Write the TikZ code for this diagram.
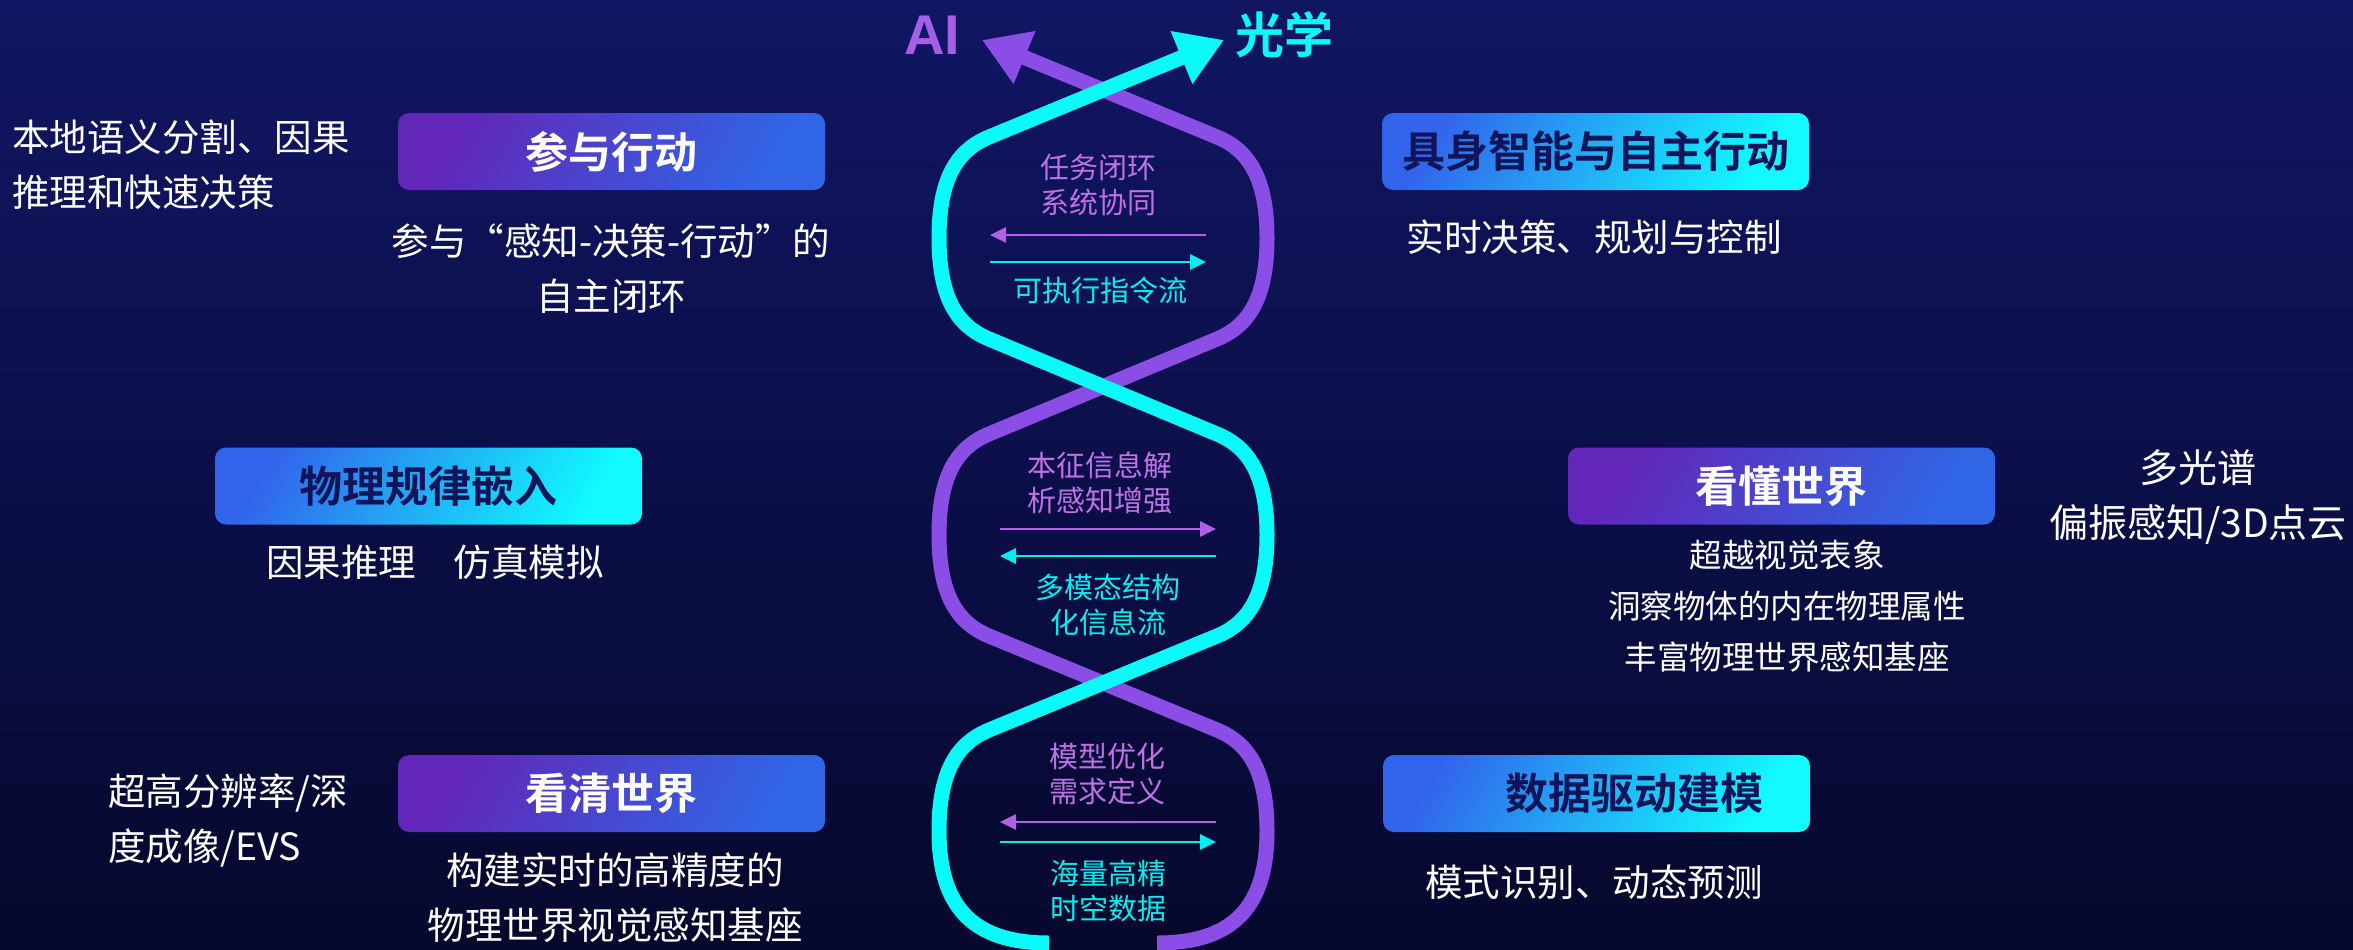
\documentclass[tikz,border=0pt]{standalone}
\usepackage{fontspec}
\setmainfont{Noto Sans CJK SC}[BoldFont={Noto Sans CJK SC Bold}]
\newfontfamily\latinbold{Liberation Sans}
\usetikzlibrary{arrows.meta}
\definecolor{bgtop}{RGB}{17,22,100}
\definecolor{bgbot}{RGB}{6,8,45}
\definecolor{strP}{RGB}{138,77,230}
\definecolor{strC}{RGB}{10,250,250}
\definecolor{arP}{RGB}{176,96,224}
\definecolor{arC}{RGB}{0,238,240}
\definecolor{lblP}{RGB}{192,112,232}
\definecolor{lblC}{RGB}{0,238,240}
\definecolor{aiP}{RGB}{164,94,232}
\definecolor{pL}{RGB}{98,38,184}
\definecolor{pM}{RGB}{76,72,208}
\definecolor{pR}{RGB}{48,102,230}
\definecolor{cL}{RGB}{50,100,235}
\definecolor{cM}{RGB}{64,180,255}
\definecolor{cR}{RGB}{16,250,255}
\definecolor{darktxt}{RGB}{16,20,88}
\tikzset{
  titlebox/.style={rounded corners=11pt, minimum width=427pt, minimum height=77pt, inner sep=0pt,
    font=\bfseries\fontsize{43}{50}\selectfont},
  pbox/.style={titlebox, left color=pL, middle color=pM, right color=pR, shading angle=60, text=white},
  cbox/.style={titlebox, left color=cL, middle color=cM, right color=cR, shading angle=60, text=darktxt},
  body/.style={text=white, font=\fontsize{37.5}{55}\selectfont, align=center, inner sep=0pt},
  lbl/.style={font=\fontsize{29}{35}\selectfont, align=center, inner sep=0pt},
  strand/.style={line width=15pt},
  flow/.style={line width=2.7pt, -{Triangle[length=16pt,width=15pt]}}
}
\begin{document}
\begin{tikzpicture}[x=1pt,y=-1pt]
\useasboundingbox (0,0) rectangle (2353,950);
\fill[top color=bgtop, bottom color=bgbot] (0,0) rectangle (2353,950);

% helix strands
\draw[strand, strP, {Triangle[length=46pt,width=54pt]}-] (982,40) -- (1217,137)
  .. controls (1250,150.6) and (1267,180) .. (1267,238)
  .. controls (1267,296) and (1250,325.4) .. (1217,339) -- (989,434)
  .. controls (956,447.6) and (939,477) .. (939,535)
  .. controls (939,593) and (956,622.4) .. (989,636) -- (1217,730)
  .. controls (1250,743.6) and (1267,773) .. (1267,831)
  .. controls (1267,905) and (1235,943) .. (1157,943);
\draw[strand, strC, -{Triangle[length=46pt,width=54pt]}] (1049,943)
  .. controls (971,943) and (939,905) .. (939,831)
  .. controls (939,773) and (956,743.6) .. (989,730) -- (1217,636)
  .. controls (1250,622.4) and (1267,593) .. (1267,535)
  .. controls (1267,477) and (1250,447.6) .. (1217,434) -- (989,339)
  .. controls (956,325.4) and (939,296) .. (939,238)
  .. controls (939,180) and (956,150.6) .. (989,137) -- (1224,40);

% top labels
\node[text=aiP, font=\latinbold\bfseries\fontsize{56}{60}\selectfont, inner sep=0pt] (ai) at (932,35) {AI};
\node[text=strC, font=\bfseries\fontsize{49}{55}\selectfont, inner sep=0pt] (gx) at (1284,35) {光学};

% loop 1
\node[lbl, text=lblP] (l1a) at (1098,185) {任务闭环\\系统协同};
\coordinate (l1pS) at (1206,235); \coordinate (l1pE) at (990,235);
\coordinate (l1cS) at (990,262); \coordinate (l1cE) at (1206,262);
\draw[flow, arP] (l1pS) -- (l1pE);
\draw[flow, arC] (l1cS) -- (l1cE);
\node[lbl, text=lblC] (l1b) at (1100,290) {可执行指令流};

% loop 2
\node[lbl, text=lblP] (l2a) at (1100,482.5) {本征信息解\\析感知增强};
\coordinate (l2pS) at (1000,529); \coordinate (l2pE) at (1216,529);
\coordinate (l2cS) at (1216,556); \coordinate (l2cE) at (1000,556);
\draw[flow, arP] (l2pS) -- (l2pE);
\draw[flow, arC] (l2cS) -- (l2cE);
\node[lbl, text=lblC] (l2b) at (1108,604.5) {多模态结构\\化信息流};

% loop 3
\node[lbl, text=lblP] (l3a) at (1107,774.5) {模型优化\\需求定义};
\coordinate (l3pS) at (1216,822); \coordinate (l3pE) at (1000,822);
\coordinate (l3cS) at (1000,842); \coordinate (l3cE) at (1216,842);
\draw[flow, arP] (l3pS) -- (l3pE);
\draw[flow, arC] (l3cS) -- (l3cE);
\node[lbl, text=lblC] (l3b) at (1108,890.5) {海量高精\\时空数据};

% left column
\node[body, align=left, anchor=west] (t1) at (12,164.5) {本地语义分割、因果\\推理和快速决策};
\node[pbox] (b1) at (611.5,151.5) {参与行动};
\node[body] (t2) at (611,268.5) {参与“感知-决策-行动”的\\自主闭环};

\node[cbox] (b2) at (428.5,486) {物理规律嵌入};
\node[body] (t3) at (435,562) {因果推理\hspace{1em}仿真模拟};

\node[body, align=left, anchor=west] (t4) at (108,820) {超高分辨率/深\\度成像/EVS};
\node[pbox] (b3) at (611.5,793.5) {看清世界};
\node[body] (t5) at (615,897.5) {构建实时的高精度的\\物理世界视觉感知基座};

% right column
\node[cbox] (b4) at (1595.5,151.5) {具身智能与自主行动};
\node[body] (t6) at (1594,237) {实时决策、规划与控制};

\node[pbox] (b5) at (1781.5,486) {看懂世界};
\node[body, font=\fontsize{32.5}{51}\selectfont] (t7) at (1787,606) {超越视觉表象\\洞察物体的内在物理属性\\丰富物理世界感知基座};
\node[body, font=\fontsize{39}{55}\selectfont] (t8) at (2198,497.5) {多光谱\\偏振感知/3D点云};

\node[cbox] (b6) at (1596.5,793.5) {\hspace*{75pt}数据驱动建模};
\node[body] (t9) at (1594,882) {模式识别、动态预测};
\end{tikzpicture}
\end{document}
